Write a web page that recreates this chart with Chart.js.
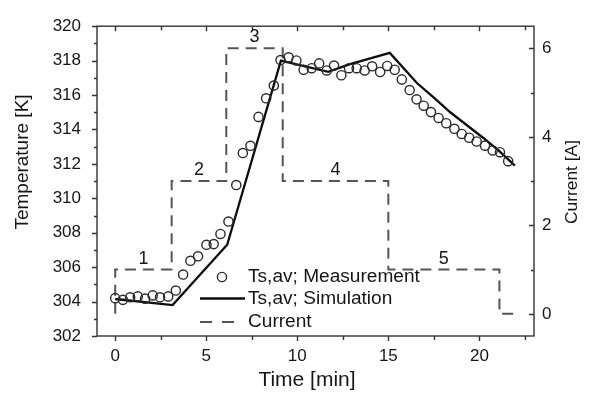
<!DOCTYPE html>
<html><head><meta charset="utf-8">
<script src="https://cdn.jsdelivr.net/npm/chart.js@4.4.1/dist/chart.umd.min.js"></script>
<style>html,body{margin:0;padding:0;background:#fff;}#wrap{width:589px;height:399px;}</style>
</head><body><div id="wrap"><canvas id="c" width="589" height="399"></canvas></div>
<script>
// ---- data ----
const measTime = [0, 0.42, 0.82, 1.24, 1.64, 2.06, 2.46, 2.91, 3.33, 3.73, 4.13, 4.55, 5.01, 5.41, 5.78, 6.22,
  6.65, 7.01, 7.43, 7.87, 8.29, 8.71, 9.08, 9.52, 9.95, 10.35, 10.79, 11.2, 11.62, 12.02, 12.42, 12.84,
  13.26, 13.7, 14.11, 14.55, 14.94, 15.35, 15.74, 16.17, 16.55, 16.94, 17.34, 17.76, 18.18, 18.63, 19.03,
  19.44, 19.85, 20.31, 20.73, 21.13, 21.58];
const measTemp = [304.2, 304.1, 304.25, 304.3, 304.17, 304.36, 304.25, 304.3, 304.64, 305.57, 306.37, 306.63, 307.3, 307.34, 307.93, 308.65,
  310.77, 312.63, 313.05, 314.73, 315.81, 316.55, 318.03, 318.19, 318.01, 317.47, 317.56, 317.84, 317.43, 317.71, 317.15, 317.56,
  317.56, 317.43, 317.67, 317.34, 317.69, 317.47, 316.91, 316.29, 315.75, 315.38, 315.01, 314.67, 314.36, 314.04, 313.74,
  313.52, 313.3, 313.06, 312.78, 312.68, 312.16];
const simTime = [0, 3.15, 6.15, 9.1, 11.7, 12.85, 15.08, 16.57, 17.5, 18.4, 19.3, 20.2, 21.05, 21.95];
const simTemp = [304.15, 303.8, 307.3, 318.0, 317.35, 317.78, 318.45, 316.7, 315.85, 315.0, 314.26, 313.52, 312.78, 311.9];
const stepTime = [0, 0, 3.1, 6.1, 9.2, 15.0, 21.1, 22.0];
const stepCurrent = [0, 1, 3, 6, 3, 1, 0, 0];
const phaseLabels = ['1', '2', '3', '4', '5'];
const seriesNames = ['Ts,av; Measurement', 'Ts,av; Simulation', 'Current'];
const timeTicks = [0, 5, 10, 15, 20];
const tempTicks = [302, 304, 306, 308, 310, 312, 314, 316, 318, 320];
const currentTicks = [0, 2, 4, 6];
const axisTitles = ['Time [min]', 'Temperature [K]', 'Current [A]'];

const FONT = "'Liberation Sans', Arial, sans-serif";
const INK = '#161616';
const AXIS = '#333';

// choose a font size so that the text spans the width seen in the reference
function fitFont(ctx, text, targetWidth) {
  ctx.font = '20px ' + FONT;
  const w = ctx.measureText(text).width;
  return Math.max(10, Math.min(26, 20 * targetWidth / w));
}

const framePlugin = {
  id: 'frame',
  afterDraw(chart) {
    const ctx = chart.ctx, a = chart.chartArea;
    const x = chart.scales.x, y = chart.scales.y, y2 = chart.scales.y2;
    ctx.save();
    ctx.strokeStyle = AXIS; ctx.lineWidth = 1.4;
    ctx.strokeRect(a.left, a.top, a.right - a.left, a.bottom - a.top);
    ctx.beginPath();
    for (let v = 0; v <= 23; v += 2.5) {
      const px = Math.round(x.getPixelForValue(v)) + 0.5;
      const len = (v % 5 === 0) ? 5 : 4;
      ctx.moveTo(px, a.bottom); ctx.lineTo(px, a.bottom + len);
      ctx.moveTo(px, a.top); ctx.lineTo(px, a.top + len);
    }
    for (let v = 302; v <= 320; v += 1) {
      const py = Math.round(y.getPixelForValue(v)) + 0.5;
      const len = (v % 2 === 0) ? 5 : 3;
      ctx.moveTo(a.left, py); ctx.lineTo(a.left - len, py);
    }
    for (let v = 0; v <= 6; v += 1) {
      const py = Math.round(y2.getPixelForValue(v)) + 0.5;
      const len = (v % 2 === 0) ? 5 : 3;
      ctx.moveTo(a.right, py); ctx.lineTo(a.right - len, py);
    }
    ctx.stroke();

    // axis titles
    ctx.fillStyle = INK;
    ctx.textAlign = 'center'; ctx.textBaseline = 'middle';
    ctx.font = fitFont(ctx, axisTitles[0], 97).toFixed(1) + 'px ' + FONT;
    ctx.fillText(axisTitles[0], 307, 380);
    ctx.font = fitFont(ctx, axisTitles[1], 135).toFixed(1) + 'px ' + FONT;
    ctx.save(); ctx.translate(23, 162); ctx.rotate(-Math.PI / 2);
    ctx.fillText(axisTitles[1], 0, 0); ctx.restore();
    ctx.font = fitFont(ctx, axisTitles[2], 84).toFixed(1) + 'px ' + FONT;
    ctx.save(); ctx.translate(572, 182); ctx.rotate(-Math.PI / 2);
    ctx.fillText(axisTitles[2], 0, 0); ctx.restore();

    // phase numbers above the current steps
    ctx.font = '18px ' + FONT;
    phaseLabels.forEach((lab, k) => {
      const t0 = stepTime[k + 1], t1 = stepTime[k + 2];
      const px = x.getPixelForValue((t0 + t1) / 2);
      const py = y2.getPixelForValue(stepCurrent[k + 1]) - 11;
      ctx.fillText(lab, px, py);
    });

    // legend inside the plot
    const ds = chart.data.datasets;
    const rows = [277, 298.5, 322];
    const symL = 200, symR = 245, textX = 248;
    ctx.beginPath();
    ctx.lineWidth = ds[0].borderWidth; ctx.strokeStyle = ds[0].borderColor;
    ctx.arc(222, rows[0], ds[0].pointRadius, 0, Math.PI * 2);
    ctx.stroke();
    ctx.beginPath();
    ctx.lineWidth = ds[1].borderWidth; ctx.strokeStyle = ds[1].borderColor;
    ctx.moveTo(symL, rows[1]); ctx.lineTo(symR, rows[1]); ctx.stroke();
    ctx.beginPath();
    ctx.lineWidth = ds[2].borderWidth; ctx.strokeStyle = ds[2].borderColor;
    ctx.setLineDash([12, 10]);
    ctx.moveTo(symL, rows[2]); ctx.lineTo(symR - 11, rows[2]); ctx.stroke();
    ctx.setLineDash([]);
    ctx.fillStyle = INK;
    ctx.textAlign = 'left';
    ctx.font = fitFont(ctx, seriesNames[0], 172).toFixed(1) + 'px ' + FONT;
    seriesNames.forEach((n, i) => ctx.fillText(n, textX, rows[i]));
    ctx.restore();
  }
};

new Chart(document.getElementById('c'), {
  type: 'line',
  data: {
    datasets: [
      {
        label: seriesNames[0],
        data: measTime.map((t, i) => ({ x: t, y: measTemp[i] })),
        showLine: false, yAxisID: 'y',
        pointStyle: 'circle', pointRadius: 4.6, pointHoverRadius: 4.6,
        borderColor: '#2a2a2a', borderWidth: 1.4, backgroundColor: 'rgba(0,0,0,0)',
        pointBackgroundColor: 'rgba(0,0,0,0)'
      },
      {
        label: seriesNames[1],
        data: simTime.map((t, i) => ({ x: t, y: simTemp[i] })),
        yAxisID: 'y', borderColor: '#0d0d0d', borderWidth: 2.3, pointRadius: 0, tension: 0, fill: false
      },
      {
        label: seriesNames[2],
        data: stepTime.map((t, i) => ({ x: t, y: stepCurrent[i] })),
        yAxisID: 'y2', stepped: true, borderColor: '#555', borderWidth: 2, borderDash: [11, 7],
        pointRadius: 0, fill: false
      }
    ]
  },
  options: {
    responsive: false, animation: false, devicePixelRatio: 1,
    layout: { padding: { top: 14, left: 0, right: 0, bottom: 0 } },
    plugins: { legend: { display: false }, tooltip: { enabled: false } },
    scales: {
      x: {
        type: 'linear', position: 'bottom', min: -1, max: 23,
        afterBuildTicks: s => { s.ticks = timeTicks.map(v => ({ value: v })); },
        afterFit: s => { s.height = 63; },
        grid: { display: false, drawTicks: false }, border: { display: false },
        ticks: { font: { family: FONT, size: 17 }, color: INK, padding: 10, maxRotation: 0 },
        title: { display: false }
      },
      y: {
        position: 'left', min: 302, max: 320,
        afterBuildTicks: s => { s.ticks = tempTicks.map(v => ({ value: v })); },
        afterFit: s => { s.width = 97; },
        grid: { display: false, drawTicks: false }, border: { display: false },
        ticks: { font: { family: FONT, size: 17 }, color: INK, padding: 16 },
        title: { display: false }
      },
      y2: {
        position: 'right', min: -0.5, max: 6.5,
        afterBuildTicks: s => { s.ticks = currentTicks.map(v => ({ value: v })); },
        afterFit: s => { s.width = 55; },
        grid: { display: false, drawTicks: false }, border: { display: false },
        ticks: { font: { family: FONT, size: 17 }, color: INK, padding: 8 },
        title: { display: false }
      }
    }
  },
  plugins: [framePlugin]
});
</script></body></html>
